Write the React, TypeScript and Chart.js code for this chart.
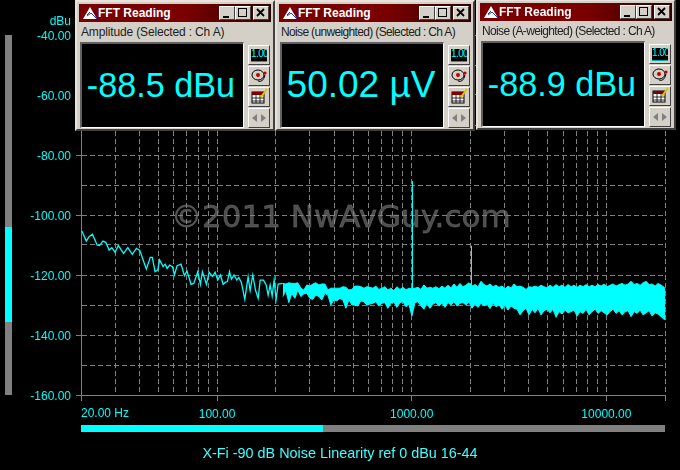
import React, { useEffect, useRef } from "react";
import { Chart, registerables } from "chart.js";

Chart.register(...registerables);

const CYAN = "#00ffff";
const GRID = "#808080";
const AXIS_FONT = "'Liberation Sans', Arial, sans-serif";

const gridFreqs = [20, 30, 40, 50, 60, 70, 80, 90, 100, 200, 300, 400, 500, 600, 700, 800, 900, 1000, 2000, 3000, 4000, 5000, 6000, 7000, 8000, 9000, 10000, 20000];
const freqLabels: Record<number, string> = { 100: "100.00", 1000: "1000.00", 10000: "10000.00" };
const firstFreqLabel = "20.00 Hz";
const yLabelled = [-40, -60, -80, -100, -120, -140, -160];
const chartTitle = "X-Fi -90 dB Noise Linearity ref 0 dBu 16-44";
const watermark = "©2011 NwAvGuy.com";
const unitLabel = "dBu";

const traceFreq = [20.2, 20.8, 21.3, 22.0, 22.9, 24.2, 24.9, 25.9, 26.8, 27.9, 28.8, 29.9, 31.1, 33.1, 34.8, 36.7, 38.5, 40.1, 41.7, 43.3, 45.4, 46.5, 48.0, 49.6, 50.7, 52.8, 54.1, 55.4, 57.1, 59.0, 60.4, 62.3, 65.3, 68.0, 70.1, 73.5, 75.9, 79.6, 82.1, 84.1, 88.2, 91.0, 94.7, 97.7, 100.8, 104.1, 107.4, 110.8, 113.1, 115.8, 118.6, 122.3, 126.3, 129.3, 133.4, 138.8, 144.4, 147.9, 152.6, 157.5, 162.6, 166.5, 173.2, 178.7, 183.0, 187.4, 191.9, 196.4, 201.1, 206.0, 217.7];
const traceLevel = [-105.3, -107.2, -108.7, -107.2, -106.4, -110.0, -110.2, -108.7, -109.1, -111.7, -110.9, -112.4, -110.2, -112.8, -110.9, -113.1, -111.1, -111.8, -115.0, -118.0, -114.1, -114.1, -118.9, -118.3, -115.0, -117.2, -116.4, -117.8, -116.7, -117.2, -120.0, -116.9, -116.4, -120.2, -118.7, -123.1, -122.8, -118.9, -123.1, -118.9, -123.1, -119.1, -120.5, -119.1, -121.7, -120.0, -123.1, -122.4, -122.2, -118.9, -121.4, -120.0, -121.7, -120.8, -122.6, -128.1, -120.6, -125.2, -120.0, -125.0, -127.8, -121.7, -121.7, -123.3, -126.7, -123.3, -127.0, -121.7, -128.1, -123.0, -122.8];

const bandFreq = [217.7, 225.6, 233.7, 242, 251, 260, 269.4, 279, 289.2, 299.7, 310.5, 321.7, 333.5, 345.5, 358, 371, 384, 398, 412.5, 427.5, 443, 459, 475.5, 493, 510.5, 529, 548, 568, 588.5, 610, 632, 654, 678, 703, 728, 754, 782, 810, 839, 870, 901, 934, 967, 1002, 1039, 1076, 1115, 1155, 1197, 1240, 1285, 1331, 1380, 1430, 1482, 1535, 1590, 1648, 1708, 1769, 1833, 1899, 1968, 2039, 2113, 2190, 2269, 2351, 2436, 2523, 2615, 2710, 2807, 2909, 3015, 3123, 3236, 3353, 3474, 3601, 3730, 3865, 4004, 4150, 4299, 4454, 4615, 4783, 4956, 5135, 5319, 5514, 5712, 5918, 6132, 6353, 6584, 6822, 7068, 7323, 7589, 7863, 8147, 8441, 8749, 9064, 9391, 9730, 10083, 10447, 10824, 11215, 11620, 12042, 12477, 12927, 13394, 13882, 14383, 14902, 15440, 16001, 16579, 17177, 17797, 18444, 19108, 19797, 20000];
const bandHigh = [-122.8, -123.0, -122.6, -122.8, -122.8, -122.6, -124.4, -125.0, -123.3, -123.7, -123.0, -122.6, -123.3, -123.0, -123.0, -125.0, -124.4, -124.4, -124.4, -124.4, -123.9, -124.1, -125.0, -124.8, -123.7, -123.7, -123.9, -124.4, -123.9, -124.1, -124.4, -123.7, -124.8, -124.4, -123.9, -125.0, -124.4, -125.2, -123.9, -124.8, -124.1, -125.0, -124.4, -124.6, -124.4, -124.1, -124.8, -123.3, -124.4, -124.1, -124.4, -123.9, -124.6, -123.7, -124.4, -123.4, -124.3, -123.0, -124.1, -122.8, -123.9, -123.4, -122.6, -123.7, -123.2, -123.9, -122.1, -123.2, -123.7, -123.0, -123.9, -123.4, -124.1, -123.7, -124.6, -123.7, -124.3, -123.0, -123.9, -123.7, -124.1, -124.8, -123.9, -124.1, -123.7, -124.1, -123.4, -123.9, -124.3, -123.4, -124.1, -123.2, -123.9, -123.4, -124.1, -123.2, -123.9, -123.4, -124.1, -123.4, -123.9, -123.2, -123.9, -123.4, -123.9, -123.2, -123.7, -123.0, -123.9, -123.4, -123.0, -123.7, -123.2, -122.8, -123.4, -123.0, -122.1, -123.2, -122.8, -123.4, -122.6, -122.1, -123.2, -123.0, -123.7, -122.8, -123.4, -124.1, -124.5];
const bandLow = [-127.2, -125.2, -129.2, -126.1, -127.8, -125.0, -127.2, -126.3, -126.1, -127.8, -128.1, -126.7, -127.2, -128.3, -126.1, -126.7, -130.0, -128.3, -128.6, -127.8, -128.3, -131.1, -128.3, -130.0, -130.0, -130.3, -128.6, -128.9, -130.0, -129.7, -129.4, -128.9, -130.3, -129.4, -129.2, -131.1, -129.4, -129.0, -130.8, -129.2, -128.9, -130.6, -129.7, -133.7, -129.2, -128.9, -130.3, -131.4, -129.4, -131.1, -129.7, -129.2, -130.3, -129.4, -130.8, -129.2, -130.0, -128.9, -130.3, -129.4, -129.2, -130.0, -128.9, -131.1, -129.7, -130.8, -129.4, -130.3, -129.7, -131.2, -129.4, -130.6, -129.9, -131.4, -130.1, -131.7, -130.3, -131.1, -131.4, -133.3, -131.9, -131.1, -133.3, -131.4, -132.6, -131.1, -133.3, -131.9, -131.4, -132.6, -131.4, -134.1, -132.2, -133.0, -131.7, -132.6, -132.2, -131.7, -133.7, -132.2, -132.8, -131.4, -133.3, -132.2, -131.4, -132.8, -131.9, -132.6, -133.3, -132.2, -131.4, -132.8, -131.9, -133.3, -132.2, -131.9, -133.9, -132.2, -132.8, -131.7, -133.3, -132.6, -131.9, -133.7, -132.6, -133.0, -133.9, -134.8, -134.8];

const fundamentalFreq = [1009, 1009];
const fundamentalLevel = [-88.7, -126];
const harmonicFreq = [2028, 2028];
const harmonicLevel = [-110.3, -125];

const windowCaptions = ["Amplitude (Selected : Ch A)", "Noise (unweighted) (Selected : Ch A)", "Noise (A-weighted) (Selected : Ch A)"];
const windowReadings = ["-88.5 dBu", "50.02 µV", "-88.9 dBu"];
const windowTitle = "FFT Reading";

const toPoints = (xs: number[], ys: number[]) => xs.map((x, i) => ({ x, y: ys[i] }));

const lineSet = (data: { x: number; y: number }[], extra: object = {}) => ({
  data,
  borderColor: CYAN,
  backgroundColor: CYAN,
  borderWidth: 1,
  pointRadius: 0,
  tension: 0,
  fill: false,
  ...extra,
});

const nudged = new WeakSet<object>();

const overlayText = {
  id: "overlayText",
  beforeDraw(chart: any) {
    for (const scale of [chart.scales.x, chart.scales.y]) {
      for (const item of scale.getLabelItems()) {
        if (!nudged.has(item)) {
          nudged.add(item);
          item.options.translation = [item.options.translation[0], item.options.translation[1] + 1.5];
        }
      }
    }
  },
  beforeDatasetsDraw(chart: any) {
    const { ctx } = chart;
    ctx.save();
    ctx.font = "31px 'DejaVu Sans', sans-serif";
    ctx.fillStyle = "rgba(128,128,128,0.6)";
    ctx.strokeStyle = "rgba(128,128,128,0.45)";
    ctx.lineWidth = 0.8;
    ctx.textAlign = "left";
    ctx.textBaseline = "alphabetic";
    ctx.fillText(watermark, 171, 227);
    ctx.strokeText(watermark, 171, 227);
    ctx.restore();
  },
  afterDraw(chart: any) {
    const { ctx, scales } = chart;
    ctx.save();
    ctx.font = `12px ${AXIS_FONT}`;
    ctx.fillStyle = CYAN;
    ctx.textBaseline = "middle";
    ctx.textAlign = "left";
    ctx.fillText(firstFreqLabel, scales.x.getPixelForValue(20), 414);
    ctx.textAlign = "right";
    ctx.fillText(unitLabel, 71, 22);
    ctx.textAlign = "center";
    ctx.font = `14.4px ${AXIS_FONT}`;
    ctx.fillStyle = "#40ffff";
    ctx.fillText(chartTitle, 340, 454);
    ctx.restore();
  },
};

function Bevel({ style, children }: { style: React.CSSProperties; children?: React.ReactNode }) {
  return (
    <div
      style={{
        position: "absolute",
        boxSizing: "border-box",
        background: "#d4d0c8",
        borderTop: "1px solid #fff",
        borderLeft: "1px solid #fff",
        borderRight: "1px solid #404040",
        borderBottom: "1px solid #404040",
        ...style,
      }}
    >
      {children}
    </div>
  );
}

function TitleButton({ left, kind }: { left: number; kind: string }) {
  return (
    <Bevel style={{ left, top: 2, width: 16, height: 14 }}>
      <svg width="14" height="12" style={{ display: "block" }}>
        {kind === "min" && <rect x="3" y="9" width="6" height="2" fill="#000" />}
        {kind === "max" && <rect x="2.5" y="1.5" width="8" height="8" fill="none" stroke="#000" strokeWidth="1" />}
        {kind === "close" && <path d="M3 2 L10 9 M10 2 L3 9" stroke="#000" strokeWidth="1.8" />}
      </svg>
    </Bevel>
  );
}

function SideIcon({ index }: { index: number }) {
  if (index === 0) {
    return (
      <div style={{ position: "absolute", left: 2, top: 3, width: 16, height: 12, background: "#000", color: CYAN, font: `10px/10px ${AXIS_FONT}`, letterSpacing: -0.6, textAlign: "center", borderBottom: "1px solid #00aaaa", whiteSpace: "nowrap", overflow: "hidden" }}>
        1.00
      </div>
    );
  }
  return (
    <svg width="20" height="18" style={{ display: "block" }}>
      {index === 1 && (
        <g>
          <ellipse cx="9" cy="8" rx="6" ry="5" fill="none" stroke="#000" />
          <circle cx="9" cy="8" r="2" fill="#c00000" />
          <circle cx="16" cy="6" r="1.6" fill="#c00000" />
          <path d="M9 14 Q14 16 16 8" fill="none" stroke="#000" />
        </g>
      )}
      {index === 2 && (
        <g>
          <rect x="3" y="4" width="12" height="11" fill="#fff" stroke="#000" />
          <rect x="3" y="4" width="12" height="3" fill="#800000" />
          <path d="M3 10 H15 M3 13 H15 M7 7 V15 M11 7 V15" stroke="#000" strokeWidth="0.8" />
          <path d="M12 9 L18 1" stroke="#e0c000" strokeWidth="2" />
        </g>
      )}
      {index === 3 && <path d="M3 9 L8 5 V13 Z M17 9 L12 5 V13 Z" fill="#808080" />}
    </svg>
  );
}

function ReadingWindow({ left, top, caption, reading, fontSize, captionSpacing }: { left: number; top: number; caption: string; reading: string; fontSize: number; captionSpacing: number }) {
  return (
    <Bevel style={{ left, top, width: 200, height: 131, border: "2px solid", borderColor: "#e8e4dc #404040 #404040 #e8e4dc" }}>
      <div style={{ position: "absolute", left: 2, top: 2, width: 192, height: 18, background: "linear-gradient(90deg,#780000,#7a0000 55%,#300000)", overflow: "hidden" }}>
        <svg width="18" height="18" style={{ position: "absolute", left: 3, top: 0 }}>
          <path d="M1 15 L8 3 L15 15 Z" fill="#fff" />
          <path d="M5 12 L9 9 L15 15" fill="none" stroke="#2040c0" strokeWidth="1" />
          <path d="M5 11 L8 8" stroke="#c00000" strokeWidth="1" />
        </svg>
        <div style={{ position: "absolute", left: 19, top: 1, color: "#fff", font: `bold 12px/16px ${AXIS_FONT}`, whiteSpace: "nowrap" }}>{windowTitle}</div>
        <TitleButton left={140} kind="min" />
        <TitleButton left={156} kind="max" />
        <TitleButton left={174} kind="close" />
      </div>
      <div style={{ position: "absolute", left: 4, top: 22, color: "#202020", font: `12px/16px ${AXIS_FONT}`, whiteSpace: "nowrap", letterSpacing: captionSpacing }}>{caption}</div>
      <div style={{ position: "absolute", left: 3, top: 40, width: 164, height: 86, boxSizing: "border-box", background: "#000", borderTop: "2px solid #606060", borderLeft: "2px solid #606060", borderRight: "1px solid #fff", borderBottom: "1px solid #fff", paddingRight: 3, color: CYAN, font: `${fontSize}px/82px ${AXIS_FONT}`, textAlign: "center", whiteSpace: "nowrap" }}>
        {reading}
      </div>
      {[0, 1, 2, 3].map((i) => (
        <Bevel key={i} style={{ left: 171, top: 43 + i * 21, width: 22, height: 20 }}>
          <SideIcon index={i} />
        </Bevel>
      ))}
    </Bevel>
  );
}

export default function App() {
  const canvasRef = useRef<HTMLCanvasElement | null>(null);

  useEffect(() => {
    document.body.style.margin = "0";
    document.body.style.background = "#000";
    const dash = [5, 3];
    const chart = new Chart(canvasRef.current as HTMLCanvasElement, {
      type: "line",
      data: {
        datasets: [
          lineSet(toPoints(traceFreq, traceLevel), { borderWidth: 1.3 }),
          lineSet(toPoints(bandFreq, bandHigh), { fill: "+1" }),
          lineSet(toPoints(bandFreq, bandLow)),
          lineSet(toPoints(fundamentalFreq, fundamentalLevel)),
          lineSet(toPoints(harmonicFreq, harmonicLevel)),
        ],
      } as any,
      plugins: [overlayText],
      options: {
        responsive: false,
        animation: false,
        parsing: false,
        normalized: true,
        layout: { padding: { left: 0, right: 15, top: 35, bottom: 0 } },
        plugins: {
          legend: { display: false },
          tooltip: { enabled: false },
        },
        scales: {
          x: {
            type: "logarithmic",
            min: 20,
            max: 20000,
            afterBuildTicks(scale: any) {
              scale.ticks = gridFreqs.map((value) => ({ value }));
            },
            afterFit(scale: any) {
              scale.height = 75;
            },
            border: { color: GRID, width: 1, dash },
            grid: {
              color: GRID,
              lineWidth: 1,
              tickLength: 6,
              tickColor: (c: any) => (freqLabels[c.tick?.value] || c.tick?.value === 20 || c.tick?.value === 20000 ? GRID : "rgba(0,0,0,0)"),
            },
            ticks: {
              autoSkip: false,
              maxRotation: 0,
              color: CYAN,
              padding: 5,
              font: { family: AXIS_FONT, size: 12 },
              callback: (value: any) => freqLabels[Number(value)] ?? "",
            },
          },
          y: {
            type: "linear",
            min: -160,
            max: -40,
            afterFit(scale: any) {
              scale.width = 81;
            },
            border: { color: GRID, width: 1, dash },
            grid: {
              color: GRID,
              lineWidth: 1,
              tickLength: 5,
              tickColor: (c: any) => (yLabelled.includes(c.tick?.value) ? GRID : "rgba(0,0,0,0)"),
            },
            ticks: {
              stepSize: 10,
              color: CYAN,
              padding: 5,
              font: { family: AXIS_FONT, size: 12 },
              callback: (value: any) => (yLabelled.includes(Number(value)) ? Number(value).toFixed(2) : ""),
            },
          },
        },
      } as any,
    });
    return () => chart.destroy();
  }, []);

  return (
    <div style={{ position: "fixed", left: 0, top: 0, width: 680, height: 470, background: "#000", overflow: "hidden" }}>
      <canvas ref={canvasRef} width={680} height={470} style={{ position: "absolute", left: 0, top: 0 }} />
      <div style={{ position: "absolute", left: 5, top: 35, width: 7, height: 360, background: GRID }} />
      <div style={{ position: "absolute", left: 5, top: 227, width: 7, height: 95, background: CYAN }} />
      <div style={{ position: "absolute", left: 81, top: 425, width: 584, height: 7, background: GRID }} />
      <div style={{ position: "absolute", left: 81, top: 425, width: 242, height: 7, background: CYAN }} />
      <ReadingWindow left={75} top={0} caption={windowCaptions[0]} reading={windowReadings[0]} fontSize={34.2} captionSpacing={-0.15} />
      <ReadingWindow left={275} top={0} caption={windowCaptions[1]} reading={windowReadings[1]} fontSize={37} captionSpacing={-0.65} />
      <ReadingWindow left={476} top={-1} caption={windowCaptions[2]} reading={windowReadings[2]} fontSize={34.2} captionSpacing={-0.65} />
    </div>
  );
}
